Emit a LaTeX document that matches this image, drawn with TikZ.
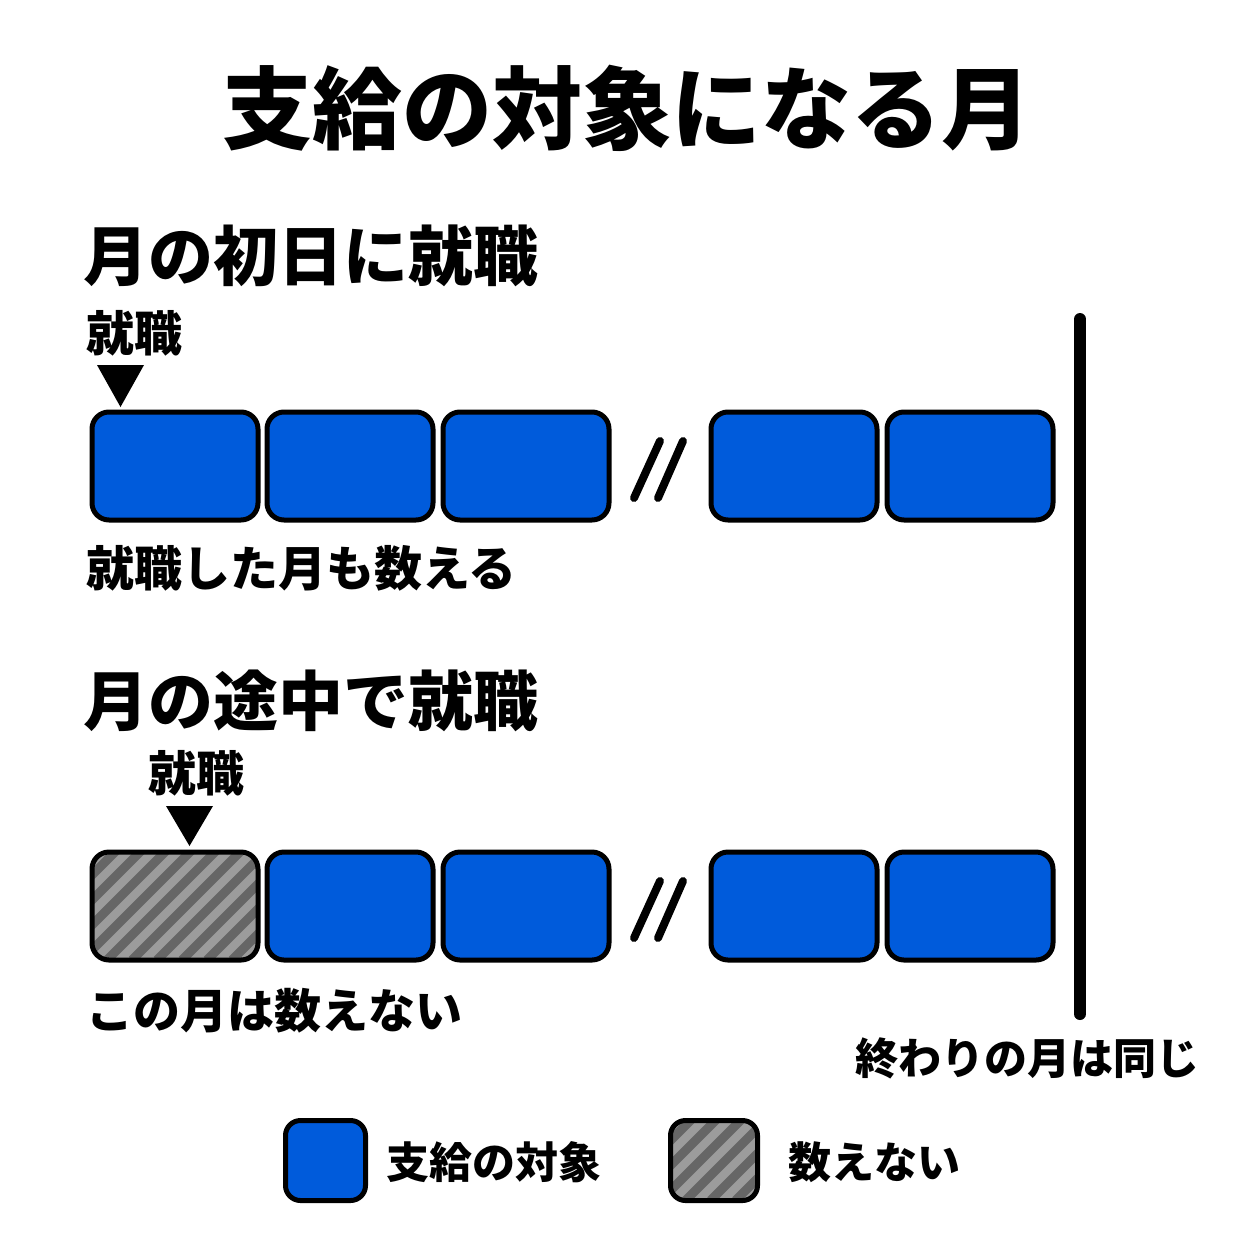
\documentclass[tikz,border=0pt]{standalone}
\usepackage{fontspec}
\newfontfamily\jp{Noto Sans CJK JP}
\definecolor{blu}{HTML}{005BDB}
\definecolor{hlight}{HTML}{9C9C9C}
\definecolor{hdark}{HTML}{666666}
\tikzset{
  mbox/.style={draw=black, line width=5pt, rounded corners=17pt, minimum width=166pt, minimum height=108pt, inner sep=0pt},
  bluebox/.style={mbox, fill=blu},
  hatchbox/.style={mbox, fill=hlight, path picture={
     \foreach \c in {-160,-135,...,220}
       \draw[hdark, line width=9pt] ([xshift=\c pt]path picture bounding box.south west) -- ++(200pt,200pt);}},
  txt/.style={font=\jp\bfseries\fontsize{#1}{#1}\selectfont, inner sep=0pt, anchor=base west},
  slash/.style={line width=8pt, line cap=round},
  trimark/.style={fill=black}
}
\begin{document}
\begin{tikzpicture}[x=1pt,y=-1pt]
\useasboundingbox[fill=white] (0,0) rectangle (1254,1254);
% title
\node[txt=90, anchor=base] (title) at (627,142) {支給の対象になる月};
% section 1
\node[txt=65] (h1) at (83,280) {月の初日に就職};
\node[txt=48] (j1) at (86,351) {就職};
\fill[trimark] (97,365) -- (144,365) -- (120.5,407) -- cycle;
\node[bluebox] (a1) at (175,466) {};
\node[bluebox] (a2) at (350,466) {};
\node[bluebox] (a3) at (526,466) {};
\node[bluebox] (a4) at (794,466) {};
\node[bluebox] (a5) at (970,466) {};
\coordinate (s1a) at (634,498); \coordinate (s1b) at (660,441);
\coordinate (s2a) at (658,498); \coordinate (s2b) at (683,441);
\draw[slash] (s1a) -- (s1b);
\draw[slash] (s2a) -- (s2b);
\node[txt=48] (c1) at (86,586) {就職した月も数える};
% section 2
\node[txt=65] (h2) at (83,725) {月の途中で就職};
\node[txt=48] (j2) at (148,791) {就職};
\fill[trimark] (166,806) -- (213,806) -- (189.5,846) -- cycle;
\node[hatchbox] (b1) at (175,906) {};
\node[bluebox] (b2) at (350,906) {};
\node[bluebox] (b3) at (526,906) {};
\node[bluebox] (b4) at (794,906) {};
\node[bluebox] (b5) at (970,906) {};
\coordinate (t1a) at (634,938); \coordinate (t1b) at (660,881);
\coordinate (t2a) at (658,938); \coordinate (t2b) at (683,881);
\draw[slash] (t1a) -- (t1b);
\draw[slash] (t2a) -- (t2b);
\node[txt=47] (c2) at (86,1028) {この月は数えない};
% end line
\coordinate (ltop) at (1080,319);
\coordinate (lbot) at (1080,1014);
\draw[line width=12pt, line cap=round] (ltop) -- (lbot);
\node[txt=43] (endl) at (855,1074) {終わりの月は同じ};
% legend
\node[bluebox, minimum width=80pt, minimum height=80pt, rounded corners=15pt] (lg1) at (325.5,1160.5) {};
\node[txt=43] (lt1) at (386,1178) {支給の対象};
\node[hatchbox, minimum width=87pt, minimum height=80pt, rounded corners=15pt] (lg2) at (714,1160.5) {};
\node[txt=43] (lt2) at (788,1178) {数えない};
\end{tikzpicture}
\end{document}
